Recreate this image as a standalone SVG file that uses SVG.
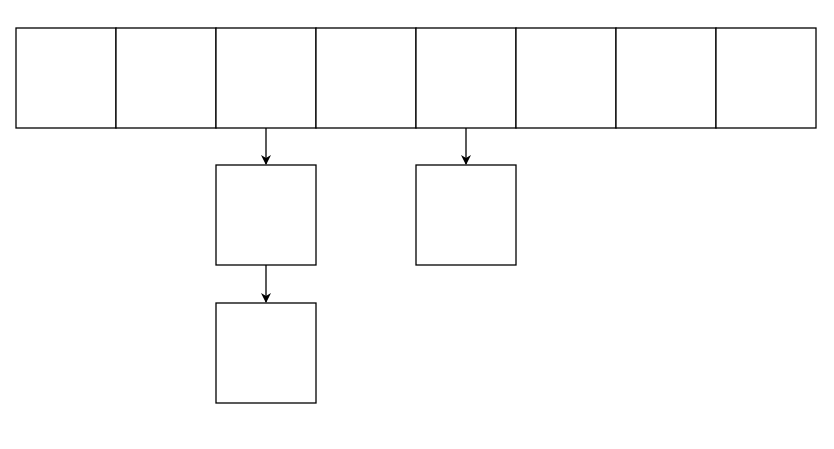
<svg xmlns="http://www.w3.org/2000/svg" width="834" height="449" viewBox="0 0 834 449">
<style>rect{fill:#fff;stroke:#000;stroke-width:1.3}.c{stroke:#000;stroke-width:1.3;fill:none}</style>
<defs><marker id="a" viewBox="0 0 10 10" refX="9" refY="5" markerWidth="10" markerHeight="10" markerUnits="userSpaceOnUse" orient="auto"><path d="M0,0 L10,5 L0,10 L3,5 Z" fill="#000"/></marker></defs>
<rect width="834" height="449" style="stroke:none"/>
<g id="n0"><rect x="16" y="28" width="100" height="100"/></g>
<g id="n1"><rect x="116" y="28" width="100" height="100"/></g>
<g id="n2"><rect x="216" y="28" width="100" height="100"/></g>
<g id="n3"><rect x="316" y="28" width="100" height="100"/></g>
<g id="n4"><rect x="416" y="28" width="100" height="100"/></g>
<g id="n5"><rect x="516" y="28" width="100" height="100"/></g>
<g id="n6"><rect x="616" y="28" width="100" height="100"/></g>
<g id="n7"><rect x="716" y="28" width="100" height="100"/></g>
<g id="n8"><rect x="216" y="165" width="100" height="100"/></g>
<g id="n9"><rect x="216" y="303" width="100" height="100"/></g>
<g id="n10"><rect x="416" y="165" width="100" height="100"/></g>
<g id="connectors">
<path class="c" d="M266,128 V164" marker-end="url(#a)"/>
<path class="c" d="M266,265 V302" marker-end="url(#a)"/>
<path class="c" d="M466,128 V164" marker-end="url(#a)"/>
</g>
</svg>
